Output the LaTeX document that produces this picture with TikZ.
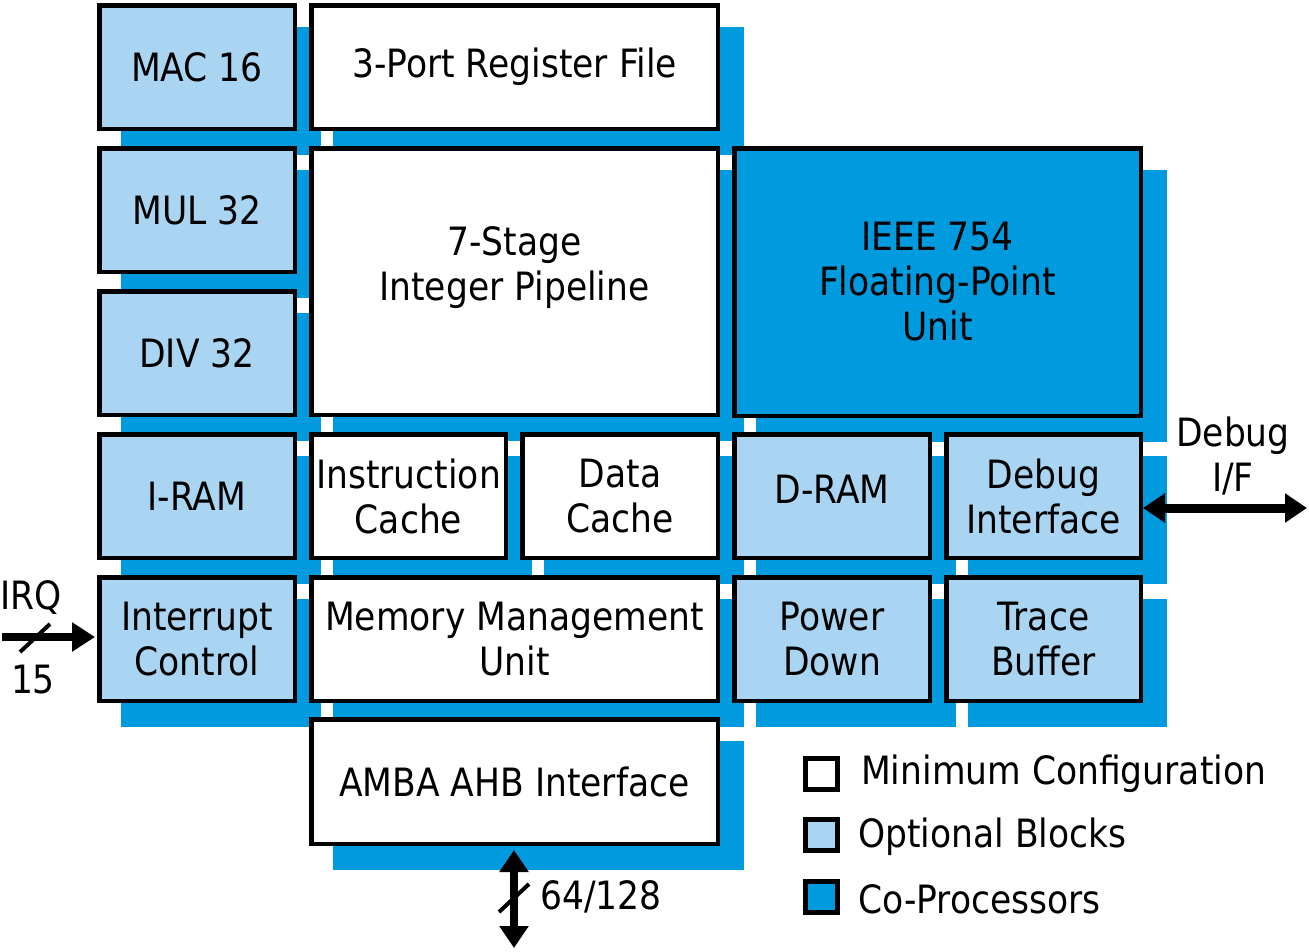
\documentclass[tikz,border=0pt]{standalone}
\usepackage{fontspec}
\setmainfont[FakeStretch=0.885]{DejaVu Sans}
\usetikzlibrary{arrows.meta}
\pgfdeclarelayer{bg}
\pgfsetlayers{bg,main}
\definecolor{optblue}{RGB}{169,213,242}
\definecolor{cpblue}{RGB}{0,155,222}
\newcommand\dropshadow[1]{\fill[cpblue] ([shift={(24,24)}]#1.north west) rectangle ([shift={(24,24)}]#1.south east);}
\begin{document}
\begin{tikzpicture}[x=1pt,y=-1pt,
  txt/.style={font=\fontsize{39}{45}\selectfont},
  box/.style={draw=black, line width=4.5pt, inner sep=0pt, anchor=north west, align=center, txt},
  minbox/.style={box, fill=white},
  optbox/.style={box, fill=optblue},
  cpbox/.style={box, fill=cpblue},
  lbl/.style={inner sep=0pt, align=center, txt},
  legbox/.style={draw=black, line width=4.5pt, inner sep=0pt, minimum width=32pt, minimum height=31pt, anchor=north west},
  slash/.style={line width=4pt}]
\useasboundingbox (0,0) rectangle (1309,951);

% column 1 (optional)
\node[optbox, minimum width=195.5pt, minimum height=123.5pt] (mac) at (97,3) {MAC 16};
\node[optbox, minimum width=195.5pt, minimum height=123.5pt] (mul) at (97,146) {MUL 32};
\node[optbox, minimum width=195.5pt, minimum height=123.5pt] (div) at (97,289) {DIV 32};
\node[optbox, minimum width=195.5pt, minimum height=123.5pt] (iram) at (97,432) {I-RAM};
\node[optbox, minimum width=195.5pt, minimum height=123.5pt] (intc) at (97,575) {Interrupt\\Control};

% column 2 (minimum)
\node[minbox, minimum width=406.5pt, minimum height=123.5pt] (reg) at (309,3) {3-Port Register File};
\node[minbox, minimum width=406.5pt, minimum height=266.5pt] (pipe) at (309,146) {};
\node[lbl] (pipetxt) at ([yshift=14pt]pipe.center) {7-Stage\\Integer Pipeline};
\node[minbox, minimum width=194.5pt, minimum height=123.5pt] (icache) at (309,432) {Instruction\\Cache};
\node[minbox, minimum width=195.5pt, minimum height=123.5pt] (dcache) at (520,432) {Data\\Cache};
\node[minbox, minimum width=406.5pt, minimum height=123.5pt] (mmu) at (309,575) {Memory Management\\Unit};
\node[minbox, minimum width=406.5pt, minimum height=124.5pt] (amba) at (309,717) {AMBA AHB Interface};

% column 3
\node[cpbox, minimum width=406.5pt, minimum height=267.5pt] (fpu) at (732,146) {IEEE 754\\Floating-Point\\Unit};
\node[optbox, minimum width=195.5pt, minimum height=123.5pt] (dram) at (732,432) {};
\node[lbl] (dramtxt) at ([yshift=7pt]dram.center) {D-RAM};
\node[optbox, minimum width=194.5pt, minimum height=123.5pt] (dbg) at (944,432) {Debug\\Interface};
\node[optbox, minimum width=195.5pt, minimum height=123.5pt] (pwr) at (732,575) {Power\\Down};
\node[optbox, minimum width=194.5pt, minimum height=123.5pt] (trace) at (944,575) {Trace\\Buffer};

% shadows
\begin{pgfonlayer}{bg}
\foreach \n in {mac,mul,div,iram,intc,reg,pipe,icache,dcache,mmu,amba,fpu,dram,dbg,pwr,trace}{\dropshadow{\n}}
\end{pgfonlayer}

% legend
\node[legbox, fill=white] (lmin) at (803,756) {};
\node[legbox, fill=optblue] (lopt) at (803,817) {};
\node[legbox, fill=cpblue] (lcp) at (803,879) {};
\node[lbl, anchor=west] (lmintxt) at (861,774) {Minimum Configuration};
\node[lbl, anchor=west] (lopttxt) at (858,837) {Optional Blocks};
\node[lbl, anchor=west] (lcptxt) at (858,899) {Co-Processors};

% IRQ
\coordinate (irqsrc) at (2,637);
\draw[line width=8pt, -{Triangle[length=23pt,width=28pt]}, shorten >=2pt] (irqsrc) -- (irqsrc -| intc.west);
\draw[slash] (20,652) -- (50,624);
\node[lbl, anchor=west] (irqtxt) at (0,598) {IRQ};
\node[lbl] (irqn) at (33,680) {15};

% Debug I/F
\coordinate (dbgend) at (1307,508);
\draw[line width=9pt, {Triangle[length=22pt,width=28pt]}-{Triangle[length=22pt,width=28pt]}] (dbgend -| dbg.east) -- (dbgend);
\node[lbl] (dbgtxt) at (1233,456) {Debug\\I/F};

% bus
\coordinate (busend) at (514,948);
\draw[line width=8pt, {Triangle[length=22pt,width=28pt]}-{Triangle[length=22pt,width=28pt]}, shorten <=4pt] (busend |- amba.south) -- (busend);
\draw[slash] (499,912) -- (529,884);
\node[lbl, anchor=west] (bustxt) at (540,897) {64/128};
\end{tikzpicture}
\end{document}
